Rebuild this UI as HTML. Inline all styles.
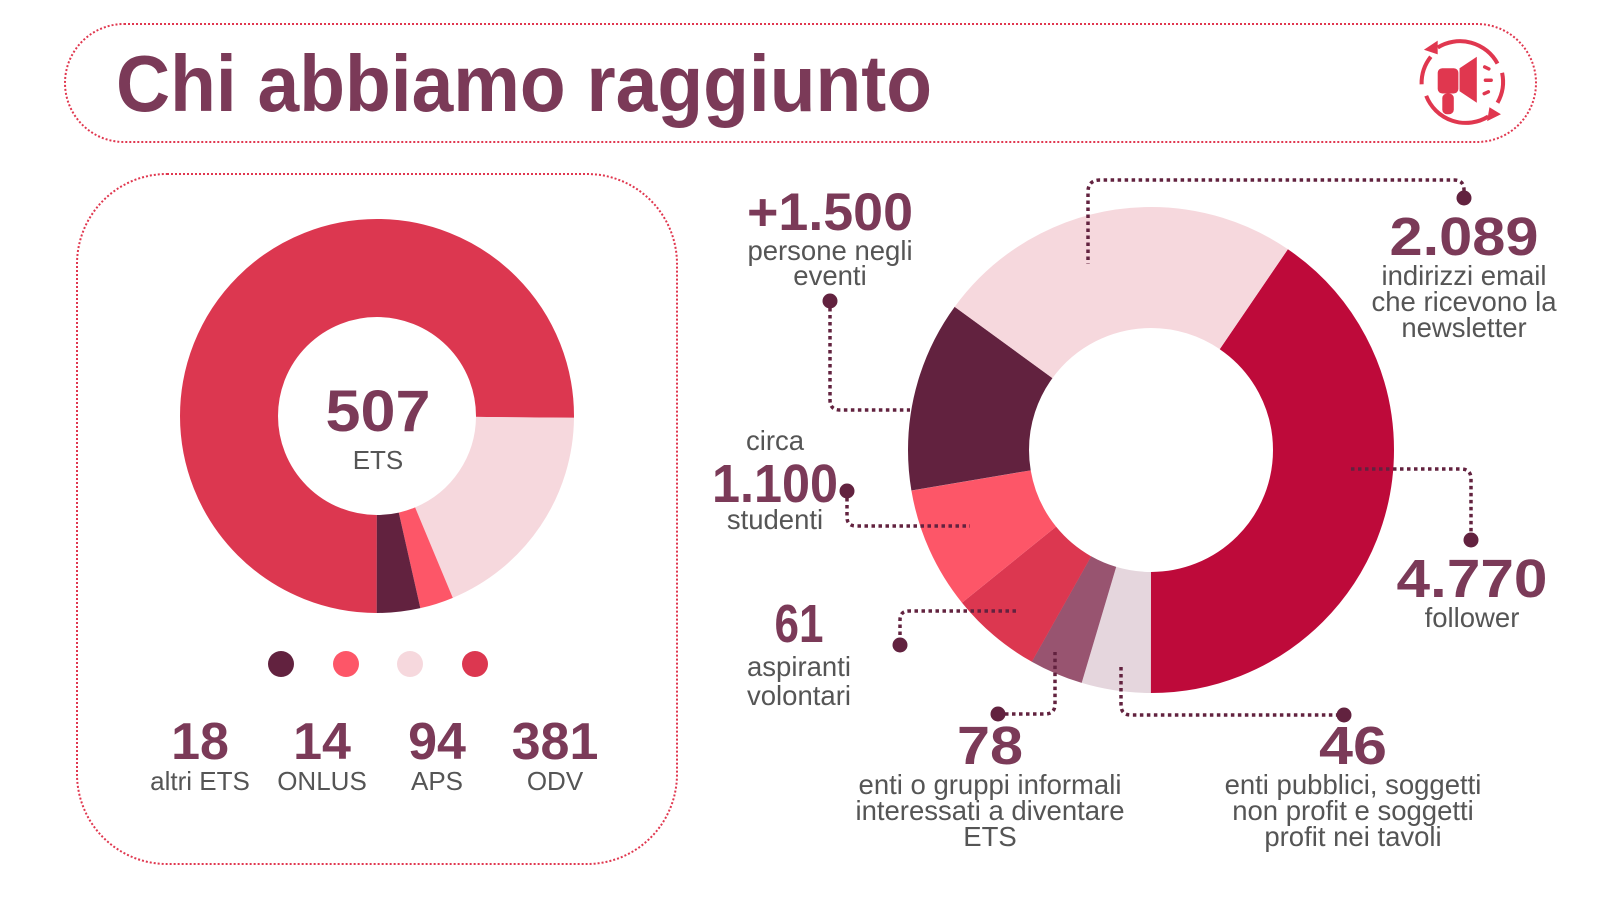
<!DOCTYPE html>
<html><head><meta charset="utf-8"><style>
html,body{margin:0;padding:0;background:#fff;}
svg{display:block;}
.n{font-family:"Liberation Sans",sans-serif;font-weight:bold;fill:#7b3a58;text-anchor:middle;}
.t{font-family:"Liberation Sans",sans-serif;fill:#555;text-anchor:middle;font-size:27.5px;}
.dl{fill:none;stroke:#62223f;stroke-width:3.5;stroke-dasharray:3.5 3.5;}
</style></head><body>
<svg width="1600" height="900" viewBox="0 0 1600 900" xmlns="http://www.w3.org/2000/svg">
<rect x="65" y="24" width="1471" height="118" rx="59" fill="none" stroke="#e0374f" stroke-width="2" stroke-dasharray="2 2"/>
<rect x="77" y="174" width="600" height="690" rx="90" fill="none" stroke="#e0374f" stroke-width="2" stroke-dasharray="2 2"/>
<text x="116" y="111" class="n" style="text-anchor:start;font-size:80px" textLength="816" lengthAdjust="spacingAndGlyphs">Chi abbiamo raggiunto</text>

<!-- icon -->
<g transform="translate(1463,82) scale(1.15)" fill="#e0374f">
<path d="M-22,-30 A37,37 0 0 1 30,-16" fill="none" stroke="#e0374f" stroke-width="3.5"/>
<path d="M22,30 A37,37 0 0 1 -32,12" fill="none" stroke="#e0374f" stroke-width="3.5"/>
<path d="M-36,2 A37,37 0 0 1 -28,-22" fill="none" stroke="#e0374f" stroke-width="3.5"/>
<path d="M34,-8 A37,37 0 0 1 30,18" fill="none" stroke="#e0374f" stroke-width="3.5"/>
<polygon points="-34,-28 -22,-36 -22,-24"/>
<polygon points="33,28 21,34 23,22"/>
<rect x="-22" y="-12" width="18" height="22" rx="4"/>
<rect x="-18" y="10" width="10" height="18" rx="4"/>
<polygon points="-3,-12 12,-22 12,18 -3,8"/>
<rect x="17" y="-14" width="7" height="3" rx="1.5" transform="rotate(25 20 -12)"/>
<rect x="18" y="-3" width="8" height="3" rx="1.5"/>
<rect x="17" y="8" width="7" height="3" rx="1.5" transform="rotate(-25 20 10)"/>
</g>

<!-- left donut -->
<g transform="translate(377,416) rotate(-90)" fill="none" stroke-width="98">
<circle r="148" stroke="#dc3750" stroke-dasharray="698.7 231.2" stroke-dashoffset="-464.96"/>
<circle r="148" stroke="#f6d8dd" stroke-dasharray="172.5 757.4" stroke-dashoffset="-233.8"/>
<circle r="148" stroke="#fd5668" stroke-dasharray="25.6 904.3" stroke-dashoffset="-406.3"/>
<circle r="148" stroke="#62223f" stroke-dasharray="33.1 896.8" stroke-dashoffset="-431.9"/>
</g>
<text x="378" y="431" class="n" style="font-size:58px" textLength="105" lengthAdjust="spacingAndGlyphs">507</text>
<text x="378" y="469" class="t" style="font-size:26px">ETS</text>
<circle cx="281" cy="664" r="13" fill="#62223f"/>
<circle cx="346" cy="664" r="13" fill="#fd5668"/>
<circle cx="410" cy="664" r="13" fill="#f6d8dd"/>
<circle cx="475" cy="664" r="13" fill="#dc3750"/>
<g class="n" style="font-size:52px">
<text x="200" y="759">18</text><text x="322" y="759">14</text><text x="437" y="759">94</text><text x="555" y="759">381</text>
</g>
<g class="t" style="font-size:26px">
<text x="200" y="790">altri ETS</text><text x="322" y="790">ONLUS</text><text x="437" y="790">APS</text><text x="555" y="790">ODV</text>
</g>

<!-- right donut -->
<g transform="translate(1151,450) rotate(-90)" fill="none" stroke-width="121">
<circle r="182.5" stroke="#be0a3a" stroke-dasharray="464.1 682.6" stroke-dashoffset="-109.2"/>
<circle r="182.5" stroke="#e5d6dd" stroke-dasharray="52.6 1094.1" stroke-dashoffset="-573.3"/>
<circle r="182.5" stroke="#985470" stroke-dasharray="40.8 1105.9" stroke-dashoffset="-625.9"/>
<circle r="182.5" stroke="#dc3750" stroke-dasharray="69.1 1077.6" stroke-dashoffset="-666.6"/>
<circle r="182.5" stroke="#fd5668" stroke-dasharray="93.3 1053.4" stroke-dashoffset="-735.7"/>
<circle r="182.5" stroke="#62223f" stroke-dasharray="145.6 1001.1" stroke-dashoffset="-829.1"/>
<circle r="182.5" stroke="#f6d8dd" stroke-dasharray="281.2 865.5" stroke-dashoffset="-974.6"/>
</g>

<!-- leader lines -->
<path class="dl" d="M830,301 V400 Q830,410 840,410 H910"/>
<path class="dl" d="M1464,198 V190 Q1464,180 1454,180 H1100 Q1088,180 1088,192 V264"/>
<path class="dl" d="M847,491 V517 Q847,526 856,526 H970"/>
<path class="dl" d="M900,642 V620 Q900,611 909,611 H1018"/>
<path class="dl" d="M998,714 H1045 Q1055,714 1055,704 V652"/>
<path class="dl" d="M1121,667 V705 Q1121,715 1131,715 H1344"/>
<path class="dl" d="M1351,469 H1461 Q1471,469 1471,479 V540"/>
<g fill="#62223f">
<circle cx="830" cy="301" r="7.5"/><circle cx="1464" cy="198" r="7.5"/><circle cx="847" cy="491" r="7.5"/>
<circle cx="900" cy="645" r="7.5"/><circle cx="998" cy="714" r="7.5"/><circle cx="1344" cy="715" r="7.5"/>
<circle cx="1471" cy="540" r="7.5"/>
</g>

<g class="n" style="font-size:54px">
<text x="830" y="230" textLength="166" lengthAdjust="spacingAndGlyphs" style="font-size:53px">+1.500</text>
<text x="1464" y="255" textLength="149" lengthAdjust="spacingAndGlyphs">2.089</text>
<text x="775" y="502" textLength="126" lengthAdjust="spacingAndGlyphs">1.100</text>
<text x="799" y="642" textLength="49" lengthAdjust="spacingAndGlyphs">61</text>
<text x="990" y="764" textLength="66" lengthAdjust="spacingAndGlyphs">78</text>
<text x="1353" y="764" textLength="68" lengthAdjust="spacingAndGlyphs">46</text>
<text x="1472" y="597" textLength="151" lengthAdjust="spacingAndGlyphs">4.770</text>
</g>
<g class="t">
<text x="830" y="260">persone negli</text><text x="830" y="285">eventi</text>
<text x="1464" y="285">indirizzi email</text><text x="1464" y="311">che ricevono la</text><text x="1464" y="337">newsletter</text>
<text x="775" y="450">circa</text><text x="775" y="529">studenti</text>
<text x="799" y="676">aspiranti</text><text x="799" y="705">volontari</text>
<text x="990" y="794">enti o gruppi informali</text><text x="990" y="820">interessati a diventare</text><text x="990" y="846">ETS</text>
<text x="1353" y="794">enti pubblici, soggetti</text><text x="1353" y="820">non profit e soggetti</text><text x="1353" y="846">profit nei tavoli</text>
<text x="1472" y="627">follower</text>
</g>
</svg>
</body></html>
